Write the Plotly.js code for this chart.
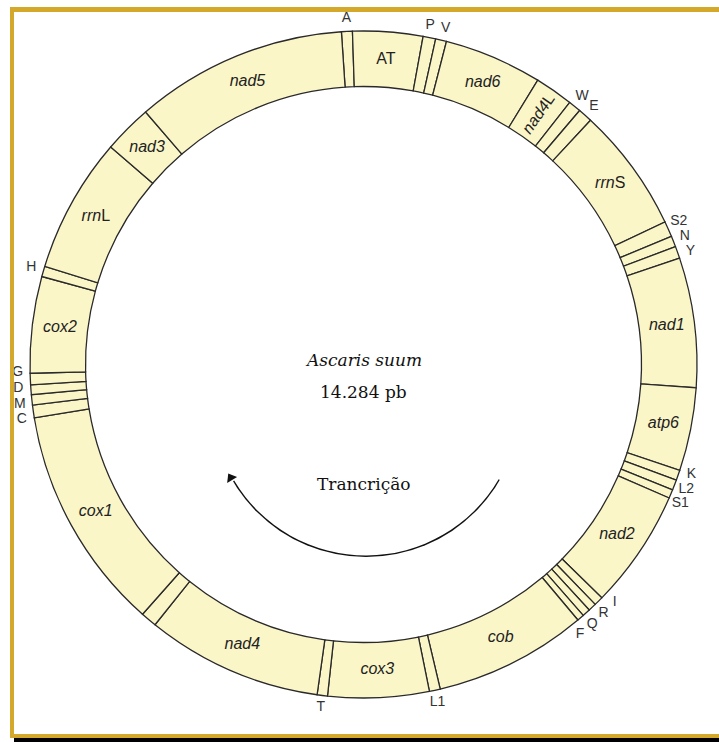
<!DOCTYPE html>
<html>
<head>
<meta charset="utf-8">
<script src="https://cdn.plot.ly/plotly-3.0.1.min.js"></script>
<style>html,body{margin:0;padding:0;background:#fff;}#chart{width:719px;height:742px;}</style>
</head>
<body>
<div id="chart"></div>
<script>
// ---- data: segments of the Ascaris suum mtDNA map (start angle, degrees clockwise from top) ----
const segNames = ['A','AT','P','V','nad6','nad4L','W','E','rrnS','S2','N','Y','nad1','atp6','K','L2','S1','nad2','I','R','Q','F','cob','L1','cox3','T','nad4','NC','cox1','C','M','D','G','cox2','H','rrnL','nad3','nad5'];
const segStart = [-3.8,-1.9,10.3,12.5,14.4,31.5,38.2,40.4,42.9,64.7,67.4,69.3,71.4,94.0,108.5,110.3,112.1,113.6,134.4,136.0,137.4,138.8,140.0,166.7,168.6,186.2,188.0,218.7,221.5,260.8,263.0,264.8,266.5,268.5,285.3,287.1,310.7,319.2];
const segKind  = ['t','n','t','t','g','g','t','t','g','t','t','t','g','g','t','t','t','g','t','t','t','t','g','t','g','t','g','x','g','t','t','t','t','g','t','g','g','g'];
const titleLines = ['<i>Ascaris suum</i>', '14.284 pb'];
const arrowLabel = 'Trancrição';

// ---- geometry / style ----
const W = 719, H = 742;
const cx = 363.5, cy = 364.5, Rout = 333.5, Rin = 278, Rmax = 354;
const px = x => x / W, py = y => 1 - y / H;
const n = segNames.length;
const segEnd = segStart.map((s, i) => i < n - 1 ? segStart[i + 1] : segStart[0] + 360);
const segWidth = segStart.map((s, i) => segEnd[i] - s);
const segMid = segStart.map((s, i) => s + segWidth[i] / 2);

function fmtGene(name) {
  const m = name.match(/^(rrn)([LS])$/);
  if (m) return '<i>' + m[1] + '</i>' + m[2];
  const m2 = name.match(/^(nad4)(L)$/);
  if (m2) return '<i>' + m2[1] + '</i>' + m2[2];
  return '<i>' + name + '</i>';
}

const ring = {
  type: 'barpolar', subplot: 'polar',
  theta: segMid, width: segWidth,
  r: segMid.map(() => Rout - Rin), base: segMid.map(() => Rin),
  marker: { color: '#FBF6C8', line: { color: '#2a2a2a', width: 1.3 } },
  hoverinfo: 'skip', showlegend: false
};

const gTheta = [], gText = [];
const tTheta = [], tText = [];
let rotated = null;
segNames.forEach((nm, i) => {
  if (segKind[i] === 'g') {
    if (nm === 'nad4L') { rotated = { theta: segMid[i], text: fmtGene(nm) }; }
    else { gTheta.push(segMid[i]); gText.push(fmtGene(nm)); }
  } else if (segKind[i] === 'n') {
    gTheta.push(segMid[i]); gText.push(nm);
  } else if (segKind[i] === 't') {
    tTheta.push(segMid[i]); tText.push(nm);
  }
});

// spread clustered tRNA labels so they do not collide
const minSep = 2.6;
const tPos = tTheta.slice();
{
  let i = 0;
  while (i < tPos.length) {
    let j = i;
    while (j + 1 < tPos.length && tTheta[j + 1] - tTheta[j] < minSep) j++;
    const k = j - i + 1;
    if (k > 1) {
      let mean = 0;
      for (let q = i; q <= j; q++) mean += tTheta[q];
      mean /= k;
      for (let q = i; q <= j; q++) tPos[q] = mean + (q - i - (k - 1) / 2) * minSep;
    }
    i = j + 1;
  }
}

const rMid = (Rout + Rin) / 2;
const geneLabels = {
  type: 'scatterpolar', subplot: 'polar', mode: 'text',
  r: gTheta.map(() => rMid), theta: gTheta, text: gText,
  textfont: { family: 'Liberation Sans, Arial, sans-serif', size: 16, color: '#222' },
  cliponaxis: false, hoverinfo: 'skip', showlegend: false
};
const trnaLabels = {
  type: 'scatterpolar', subplot: 'polar', mode: 'text',
  r: tPos.map(() => Rout + 12.5), theta: tPos, text: tText,
  textfont: { family: 'Liberation Sans, Arial, sans-serif', size: 14, color: '#333' },
  cliponaxis: false, hoverinfo: 'skip', showlegend: false
};

// transcription arrow (second polar subplot)
const acx = 366, acy = 402, aR = 155;
const arcFrom = 120.2, arcTo = 239.2;
const arc = {
  type: 'barpolar', subplot: 'polar2',
  theta: [(arcFrom + arcTo) / 2], width: [arcTo - arcFrom],
  r: [3], base: [aR - 1.5],
  marker: { color: '#111', line: { width: 0 } },
  hoverinfo: 'skip', showlegend: false
};
const head = {
  type: 'scatterpolar', subplot: 'polar2', mode: 'markers',
  r: [aR], theta: [arcTo + 1.5],
  marker: { symbol: 'triangle-up', size: 10, color: '#111', angle: -31 },
  cliponaxis: false, hoverinfo: 'skip', showlegend: false
};

const hiddenRadial = { showline: false, showgrid: false, showticklabels: false, ticks: '' };
const hiddenAngular = { rotation: 90, direction: 'clockwise', showline: false, showgrid: false, showticklabels: false, ticks: '' };

const annotations = [];
if (rotated) {
  const a = rotated.theta * Math.PI / 180;
  annotations.push({
    xref: 'paper', yref: 'paper', showarrow: false, xanchor: 'center', yanchor: 'middle',
    x: px(cx + rMid * Math.sin(a)), y: py(cy - rMid * Math.cos(a)),
    text: rotated.text, textangle: rotated.theta - 90,
    font: { family: 'Liberation Sans, Arial, sans-serif', size: 16, color: '#222' }
  });
}
const serif = { family: 'DejaVu Serif, serif', size: 17, color: '#111' };
annotations.push(
  { xref: 'paper', yref: 'paper', showarrow: false, xanchor: 'center', yanchor: 'middle', x: px(364), y: py(360), text: titleLines[0], font: serif },
  { xref: 'paper', yref: 'paper', showarrow: false, xanchor: 'center', yanchor: 'middle', x: px(364), y: py(392), text: titleLines[1], font: serif },
  { xref: 'paper', yref: 'paper', showarrow: false, xanchor: 'center', yanchor: 'middle', x: px(364), y: py(484), text: arrowLabel, font: serif }
);

const gold = '#D4A82A';
const shapes = [
  { type: 'rect', xref: 'paper', yref: 'paper', x0: px(10), x1: 1, y0: py(12), y1: py(7), fillcolor: gold, line: { width: 0 } },
  { type: 'rect', xref: 'paper', yref: 'paper', x0: px(10), x1: px(14), y0: py(738), y1: py(7), fillcolor: gold, line: { width: 0 } },
  { type: 'rect', xref: 'paper', yref: 'paper', x0: px(10), x1: 1, y0: py(738), y1: py(734), fillcolor: gold, line: { width: 0 } },
  { type: 'rect', xref: 'paper', yref: 'paper', x0: px(14), x1: 1, y0: 0, y1: py(738), fillcolor: '#000', line: { width: 0 } }
];

const layout = {
  width: W, height: H,
  margin: { l: 0, r: 0, t: 0, b: 0 },
  paper_bgcolor: '#fff',
  showlegend: false, hovermode: false,
  polar: {
    domain: { x: [px(cx - Rmax), px(cx + Rmax)], y: [py(cy + Rmax), py(cy - Rmax)] },
    bgcolor: 'rgba(0,0,0,0)',
    radialaxis: Object.assign({ range: [0, Rmax] }, hiddenRadial),
    angularaxis: hiddenAngular
  },
  polar2: {
    domain: { x: [px(acx - aR), px(acx + aR)], y: [py(acy + aR), py(acy - aR)] },
    bgcolor: 'rgba(0,0,0,0)',
    radialaxis: Object.assign({ range: [0, aR] }, hiddenRadial),
    angularaxis: hiddenAngular
  },
  annotations: annotations,
  shapes: shapes
};

Plotly.newPlot('chart', [ring, geneLabels, trnaLabels, arc, head], layout, { staticPlot: true, displayModeBar: false });
</script>
</body>
</html>
